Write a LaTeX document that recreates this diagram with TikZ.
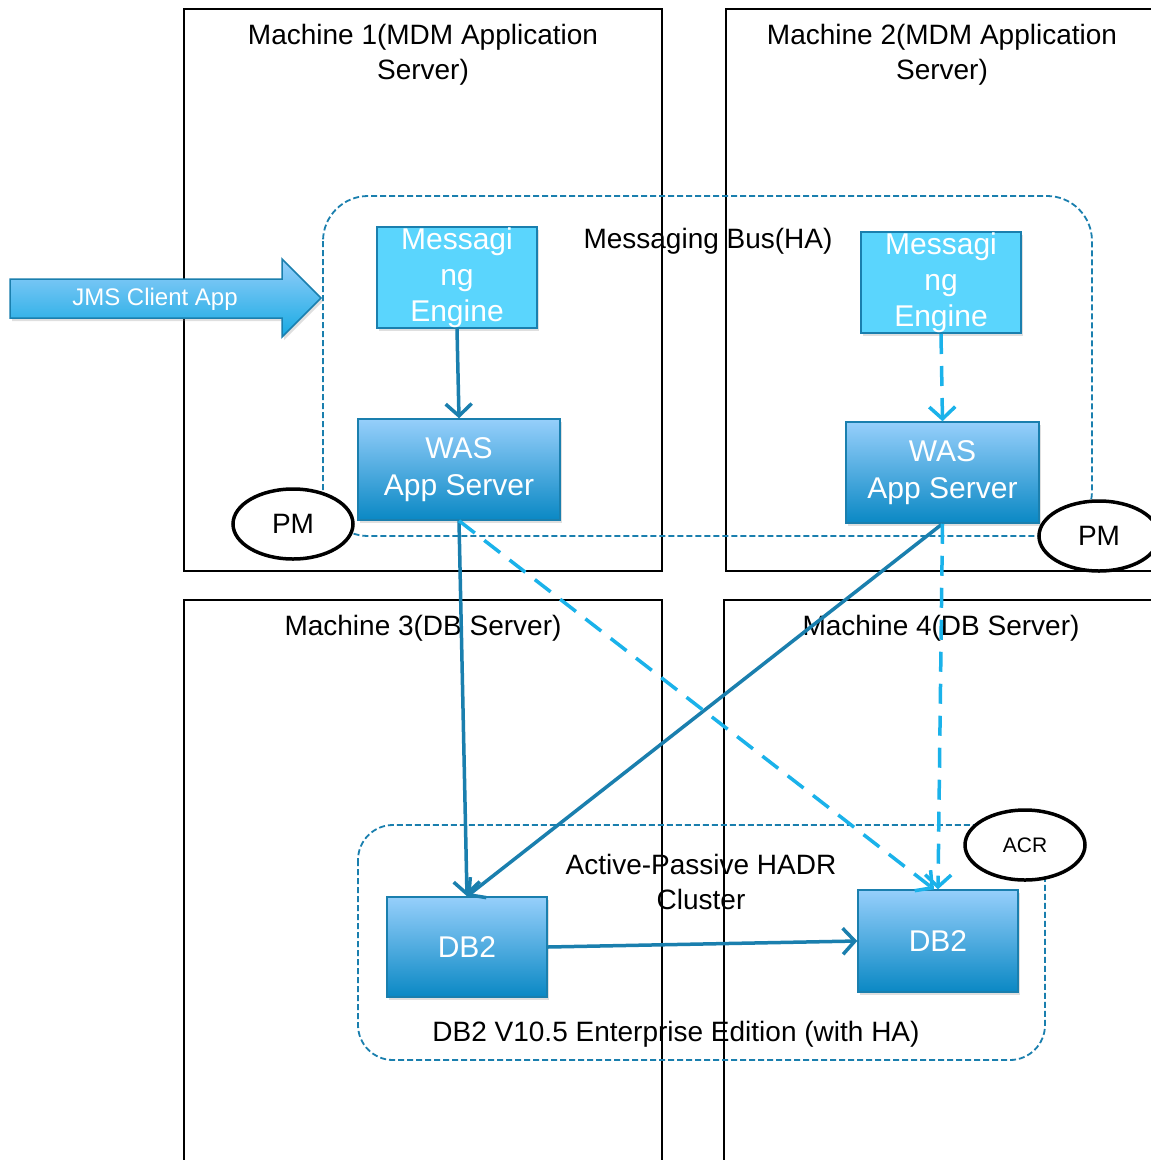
\documentclass[tikz,border=0pt]{standalone}
\usepackage{fontspec}
\setmainfont{Liberation Sans}
\usetikzlibrary{arrows.meta,shadows,calc,shapes.geometric}
\definecolor{darkb}{HTML}{1A7FAE}
\definecolor{lightb}{HTML}{1AB2EA}
\definecolor{cyanfill}{HTML}{5AD5FD}
\definecolor{topb}{HTML}{96CFFB}
\definecolor{botb}{HTML}{0A88C4}
\tikzset{
  machine/.style={draw=black,line width=2pt},
  mlabel/.style={font=\fontsize{28}{35}\selectfont,align=center,text=black},
  grp/.style={draw=darkb,line width=1.8pt,dash pattern=on 6pt off 3pt,rounded corners=45pt},
  mebox/.style={draw=darkb,line width=2pt,fill=cyanfill,minimum width=160pt,minimum height=101pt,inner sep=0pt,
     align=center,text=white,font=\fontsize{30}{36}\selectfont,
     drop shadow={shadow xshift=2pt,shadow yshift=-3pt,opacity=0.25}},
  gbox/.style={draw=darkb,line width=1.5pt,top color=topb,bottom color=botb,inner sep=0pt,
     align=center,text=white,font=\fontsize{30}{37}\selectfont,
     drop shadow={shadow xshift=2pt,shadow yshift=-3pt,opacity=0.25}},
  pm/.style={draw=black,line width=3.5pt,ellipse,fill=white,minimum width=120pt,minimum height=70pt,inner sep=0pt,
     font=\fontsize{28}{32}\selectfont},
  conn/.style={draw=darkb,line width=3.5pt,-{Straight Barb[length=12pt,width=26pt,line width=3.5pt]}},
  dconn/.style={draw=lightb,line width=3.5pt,dash pattern=on 20pt off 12pt,-{Straight Barb[length=12pt,width=26pt,line width=3.5pt]}},
}
\begin{document}
\begin{tikzpicture}[x=1pt,y=-1pt]
\useasboundingbox[fill=white] (0,0) rectangle (1151,1160);
% machines
\draw[machine] (184,9) rectangle (662,571);
\draw[machine] (1160,9) -- (726,9) -- (726,571) -- (1160,571);
\draw[machine] (184,1170) -- (184,600) -- (662,600) -- (662,1170);
\draw[machine] (724,1170) -- (724,600) -- (1160,600);
\node[mlabel] (m1) at (423,55) {Machine 1(MDM Application\\Server)};
\node[mlabel] (m2) at (942,55) {Machine 2(MDM Application\\Server)};
\node[mlabel] (m3) at (423,628) {Machine 3(DB Server)};
\node[mlabel] (m4) at (941,628) {Machine 4(DB Server)};
% groups
\draw[grp] (323,196) rectangle (1092,536);
\node[mlabel] (bus) at (708,241) {Messaging Bus(HA)};
\draw[grp,rounded corners=35pt] (358,825) rectangle (1045,1060);
\node[mlabel] (hadr) at (701,882) {Active-Passive HADR\\Cluster};
\node[mlabel] (db2ee) at (676,1034) {DB2 V10.5 Enterprise Edition (with HA)};
% JMS arrow
\draw[darkb,line width=1.5pt,top color=topb,bottom color=lightb!80!botb,
  drop shadow={shadow xshift=2pt,shadow yshift=-3pt,opacity=0.25}]
  (10,279) -- (282,279) -- (282,259) -- (321,298) -- (282,337) -- (282,318) -- (10,318) -- cycle;
\node[text=white,font=\fontsize{24}{28}\selectfont] (jms) at (155,299) {JMS Client App};
% boxes
\node[mebox] (me1) at (457,277.5) {Messagi\\ng\\Engine};
\node[mebox] (me2) at (941,282.5) {Messagi\\ng\\Engine};
\node[gbox,minimum width=202pt,minimum height=101pt] (was1) at (459,469.5) {WAS\\App Server};
\node[gbox,minimum width=193pt,minimum height=101pt] (was2) at (942.5,472.5) {WAS\\App Server};
\node[gbox,minimum width=160pt,minimum height=100pt] (db1) at (467,947) {DB2};
\node[gbox,minimum width=160pt,minimum height=102pt] (db2) at (938,941) {DB2};
% ellipses
\node[pm] (pm1) at (293,524) {PM};
\node[pm] (pm2) at (1099,536) {PM};
\node[pm,font=\fontsize{21}{25}\selectfont] (acr) at (1025,845) {ACR};
% connectors
\draw[conn] (me1.south) -- (was1.north);
\draw[dconn] (me2.south) -- (was2.north);
\draw[conn] (was1.south) -- (db1.north);
\draw[conn] (was2.south) -- (db1.north);
\draw[dconn] (was1.south) -- ($(db2.north)+(-4,0)$);
\draw[dconn] (was2.south) -- (db2.north);
\draw[conn] (db1.east) -- (db2.west);
\end{tikzpicture}
\end{document}
